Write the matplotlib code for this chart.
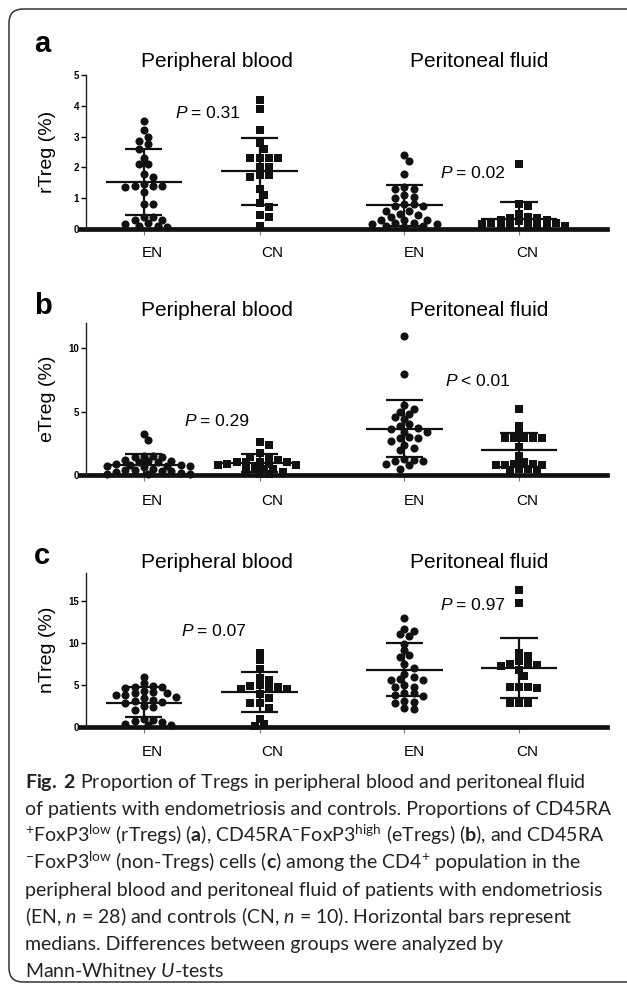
import numpy as np
import matplotlib.pyplot as plt
from matplotlib.patches import FancyBboxPatch

W, H = 627, 989

#---------------------------------------------------------------
# dati
groups = ["EN", "CN", "EN", "CN"]
group_pos = [1, 2, 3.25, 4.24]
sites = ["Peripheral blood", "Peritoneal fluid"]

# pannello a: rTreg (%)
a_pb_en = [3.5, 3.2, 3.0, 2.85, 2.75, 2.6, 2.3, 2.1, 2.1, 1.8, 1.7, 1.45, 1.4, 1.4,
           1.4, 1.35, 1.2, 0.8, 0.8, 0.4, 0.4, 0.3, 0.3, 0.2, 0.15, 0.1, 0.1, 0.05]
a_pb_cn = [4.2, 3.9, 3.2, 2.8, 2.6, 2.3, 2.3, 2.3, 2.3, 2.0, 2.0, 1.75, 1.75, 1.7,
           1.3, 1.1, 0.85, 0.7, 0.45, 0.4, 0.1]
a_pf_en = [2.4, 2.2, 1.8, 1.35, 1.3, 1.3, 1.1, 1.05, 1.0, 0.8, 0.8, 0.75, 0.75, 0.6,
           0.6, 0.5, 0.45, 0.4, 0.3, 0.3, 0.3, 0.2, 0.2, 0.15, 0.15, 0.1, 0.1, 0.05]
a_pf_cn = [2.1, 0.8, 0.75, 0.5, 0.4, 0.35, 0.35, 0.3, 0.3, 0.25, 0.2, 0.2, 0.15, 0.15,
           0.1, 0.1, 0.1, 0.05, 0.05]
a_center = [1.52, 1.87, 0.77, 0.32]
a_low = [0.45, 0.77, 0.10, 0.0]
a_high = [2.60, 2.97, 1.44, 0.87]
a_pvals = ["= 0.31", "= 0.02"]

# pannello b: eTreg (%)
b_pb_en = [3.2, 2.8, 1.5, 1.5, 1.45, 1.45, 1.2, 1.1, 1.1, 1.0, 1.0, 0.9, 0.8, 0.8,
           0.7, 0.7, 0.7, 0.6, 0.5, 0.4, 0.4, 0.3, 0.3, 0.2, 0.15, 0.1, 0.1, 0.05]
b_pb_cn = [2.6, 2.4, 1.7, 1.45, 1.45, 1.2, 1.0, 1.0, 1.0, 1.0, 0.9, 0.9, 0.8, 0.8,
           0.6, 0.5, 0.5, 0.4, 0.2, 0.1, 0.1]
b_pf_en = [11.0, 8.0, 5.5, 5.2, 5.0, 4.8, 4.6, 4.4, 4.0, 3.9, 3.7, 3.6, 3.4, 3.4,
           3.0, 2.9, 2.9, 2.7, 2.4, 2.1, 2.0, 1.3, 1.2, 1.1, 1.1, 0.9, 0.8, 0.5]
b_pf_cn = [5.2, 3.9, 3.3, 2.9, 2.9, 2.9, 2.9, 2.9, 2.2, 1.5, 1.0, 0.9, 0.9, 0.8,
           0.8, 0.8, 0.5, 0.5, 0.3, 0.2]
b_center = [0.78, 0.92, 3.61, 1.96]
b_low = [0.0, 0.20, 1.39, 0.60]
b_high = [1.65, 1.65, 5.89, 3.32]
b_pvals = ["= 0.29", "< 0.01"]

# pannello c: nTreg (%)
c_pb_en = [6.0, 5.2, 4.9, 4.8, 4.7, 4.6, 4.3, 4.1, 4.0, 4.0, 3.8, 3.8, 3.6, 3.5,
           3.2, 3.1, 3.0, 2.8, 2.5, 2.4, 2.0, 0.9, 0.8, 0.7, 0.6, 0.3, 0.2, 0.2]
c_pb_cn = [8.8, 8.0, 6.9, 5.8, 5.6, 5.0, 4.9, 4.8, 4.7, 4.5, 4.5, 3.9, 3.4, 2.8,
           2.8, 2.3, 1.0, 0.4, 0.1]
c_pf_en = [13.0, 11.7, 11.4, 11.1, 10.8, 9.9, 9.1, 8.5, 8.3, 7.5, 7.0, 6.3, 6.0, 5.7,
           5.6, 5.6, 5.0, 4.8, 4.8, 4.0, 4.0, 3.8, 3.7, 3.1, 3.0, 2.8, 2.3, 2.1]
c_pf_cn = [16.3, 14.7, 8.8, 8.4, 7.8, 7.6, 7.5, 7.4, 7.2, 6.8, 6.1, 4.8, 4.7, 4.7,
           4.6, 2.9, 2.9, 2.8]
c_center = [2.86, 4.10, 6.80, 7.00]
c_low = [1.19, 1.80, 3.65, 3.45]
c_high = [4.76, 6.50, 10.00, 10.60]
c_pvals = ["= 0.07", "= 0.97"]

caption = [
    r"$\mathbf{Fig.}$ $\mathbf{2}$ Proportion of Tregs in peripheral blood and peritoneal fluid",
    "of patients with endometriosis and controls. Proportions of CD45RA",
    r"$^{+}$FoxP3$^{\mathrm{low}}$ (rTregs) ($\mathbf{a}$), CD45RA$^{-}$FoxP3$^{\mathrm{high}}$ (eTregs) ($\mathbf{b}$), and CD45RA",
    r"$^{-}$FoxP3$^{\mathrm{low}}$ (non-Tregs) cells ($\mathbf{c}$) among the CD4$^{+}$ population in the",
    "peripheral blood and peritoneal fluid of patients with endometriosis",
    r"(EN, $n$ = 28) and controls (CN, $n$ = 10). Horizontal bars represent",
    "medians. Differences between groups were analyzed by",
    r"Mann-Whitney $U$-tests",
]

#---------------------------------------------------------------
# layout (pixel)
panels = [
    dict(letter="a", ylabel="rTreg (%)", top=75, bot=229, ymax=5, yticks=[0, 1, 2, 3, 4, 5],
         data=[a_pb_en, a_pb_cn, a_pf_en, a_pf_cn], center=a_center, low=a_low, high=a_high,
         pvals=a_pvals, ppos=[(175, 113), (440, 173)], title_y=62, letter_y=44, xlab_y=253),
    dict(letter="b", ylabel="eTreg (%)", top=323, bot=475, ymax=12, yticks=[0, 5, 10],
         data=[b_pb_en, b_pb_cn, b_pf_en, b_pf_cn], center=b_center, low=b_low, high=b_high,
         pvals=b_pvals, ppos=[(184, 422), (445, 382)], title_y=310, letter_y=306, xlab_y=501),
    dict(letter="c", ylabel="nTreg (%)", top=573, bot=727, ymax=18.3, yticks=[0, 5, 10, 15],
         data=[c_pb_en, c_pb_cn, c_pf_en, c_pf_cn], center=c_center, low=c_low, high=c_high,
         pvals=c_pvals, ppos=[(181, 632), (440, 606)], title_y=562, letter_y=556, xlab_y=752),
]
title_x = [217, 479]
xlab_x = [152, 272, 414, 527]

plt.rcParams['font.family'] = ['Liberation Sans', 'DejaVu Sans']
plt.rcParams['mathtext.fontset'] = 'custom'
plt.rcParams['mathtext.rm'] = 'Lato'
plt.rcParams['mathtext.it'] = 'Lato:italic'
plt.rcParams['mathtext.bf'] = 'Lato:bold'

INK = '#111111'


def fx(px):
    return px / W


def fy(py):
    return 1 - py / H


def swarm(ax, xc, vals, d, overlap=0.72):
    # offsets orizzontali per non sovrapporre troppo i punti (in pixel)
    pts = ax.transData.transform(np.column_stack([np.full(len(vals), xc), vals]))
    ppu = ax.transData.transform((1, 0))[0] - ax.transData.transform((0, 0))[0]
    cands = [0.0]
    for k in range(1, 30):
        cands += [k * d / 2, -k * d / 2]
    placed = []
    xs = np.zeros(len(vals))
    lim = (d * overlap) ** 2
    for i in np.argsort(vals)[::-1]:
        py = pts[i, 1]
        for off in cands:
            px = pts[i, 0] + off
            if all((px - qx) ** 2 + (py - qy) ** 2 >= lim for qx, qy in placed):
                break
        placed.append((px, py))
        xs[i] = xc + off / ppu
    return xs


fig = plt.figure(figsize=(W / 100, H / 100), dpi=100)

# cornice arrotondata
box = FancyBboxPatch((0.09, 0.07), 6.5, (982 - 9) / 100,
                     boxstyle="round,pad=0,rounding_size=0.14",
                     transform=fig.dpi_scale_trans, fill=False, ec='#333333', lw=1.1)
fig.patches.append(box)

for p in panels:
    ax = fig.add_axes([fx(86), fy(p["bot"]), fx(607) - fx(86), (p["bot"] - p["top"]) / H])
    ax.set_xlim(0.5, 5.0)
    ax.set_ylim(0, p["ymax"])
    for s in ["top", "right", "bottom"]:
        ax.spines[s].set_visible(False)
    ax.spines["left"].set_linewidth(1.0)
    ax.spines["left"].set_color('#222222')
    ax.set_yticks(p["yticks"])
    ax.tick_params(axis='y', direction='out', length=3.5, width=1, pad=1.5,
                   labelsize=7)
    for t in ax.get_yticklabels():
        t.set_fontweight('bold')
    ax.set_xticks(group_pos)
    ax.set_xticklabels([])
    ax.tick_params(axis='x', direction='out', length=4, width=0.8, color='#777777')
    ax.axhline(0, xmin=-0.012, xmax=1.0, lw=3.4, color=INK, clip_on=False, zorder=2)

    ax.set_ylabel(p["ylabel"], fontsize=14)
    ax.yaxis.set_label_coords(-0.058, 0.5)

    for k, vals in enumerate(p["data"]):
        xc = group_pos[k]
        mk = 'o' if groups[k] == "EN" else 's'
        sz = 34 if mk == 'o' else 27
        xs = swarm(ax, xc, vals, 9.2)
        ax.scatter(xs, vals, marker=mk, s=sz, color=INK, lw=0, zorder=3, clip_on=False)
        ax.hlines(p["center"][k], xc - 0.33, xc + 0.33, color=INK, lw=1.6, zorder=4)
        ax.vlines(xc, p["low"][k], p["high"][k], color=INK, lw=1.6, zorder=4)
        ax.hlines([p["low"][k], p["high"][k]], xc - 0.16, xc + 0.16, color=INK, lw=1.6, zorder=4)

    fig.text(fx(34), fy(p["letter_y"]), p["letter"], fontsize=21, fontweight='bold',
             ha='left', va='center')
    for j, site in enumerate(sites):
        fig.text(fx(title_x[j]), fy(p["title_y"]), site, fontsize=15, ha='center', va='center')
    for j, g in enumerate(groups):
        fig.text(fx(xlab_x[j]), fy(p["xlab_y"]), g, fontsize=11, ha='center', va='center')
    for j, pv in enumerate(p["pvals"]):
        t = fig.text(fx(p["ppos"][j][0]), fy(p["ppos"][j][1]), "P", fontsize=12.5,
                     style='italic', ha='left', va='center')
        ax.annotate(pv, xy=(1, 0.5), xycoords=t, xytext=(3.5, 0), textcoords='offset points',
                    fontsize=12.5, ha='left', va='center')

for i, line in enumerate(caption):
    fig.text(fx(25), fy(788 + 27 * i), line, fontsize=14, family='Lato',
             ha='left', va='baseline', color='#222222')

fig.savefig("out.png", dpi=100)
